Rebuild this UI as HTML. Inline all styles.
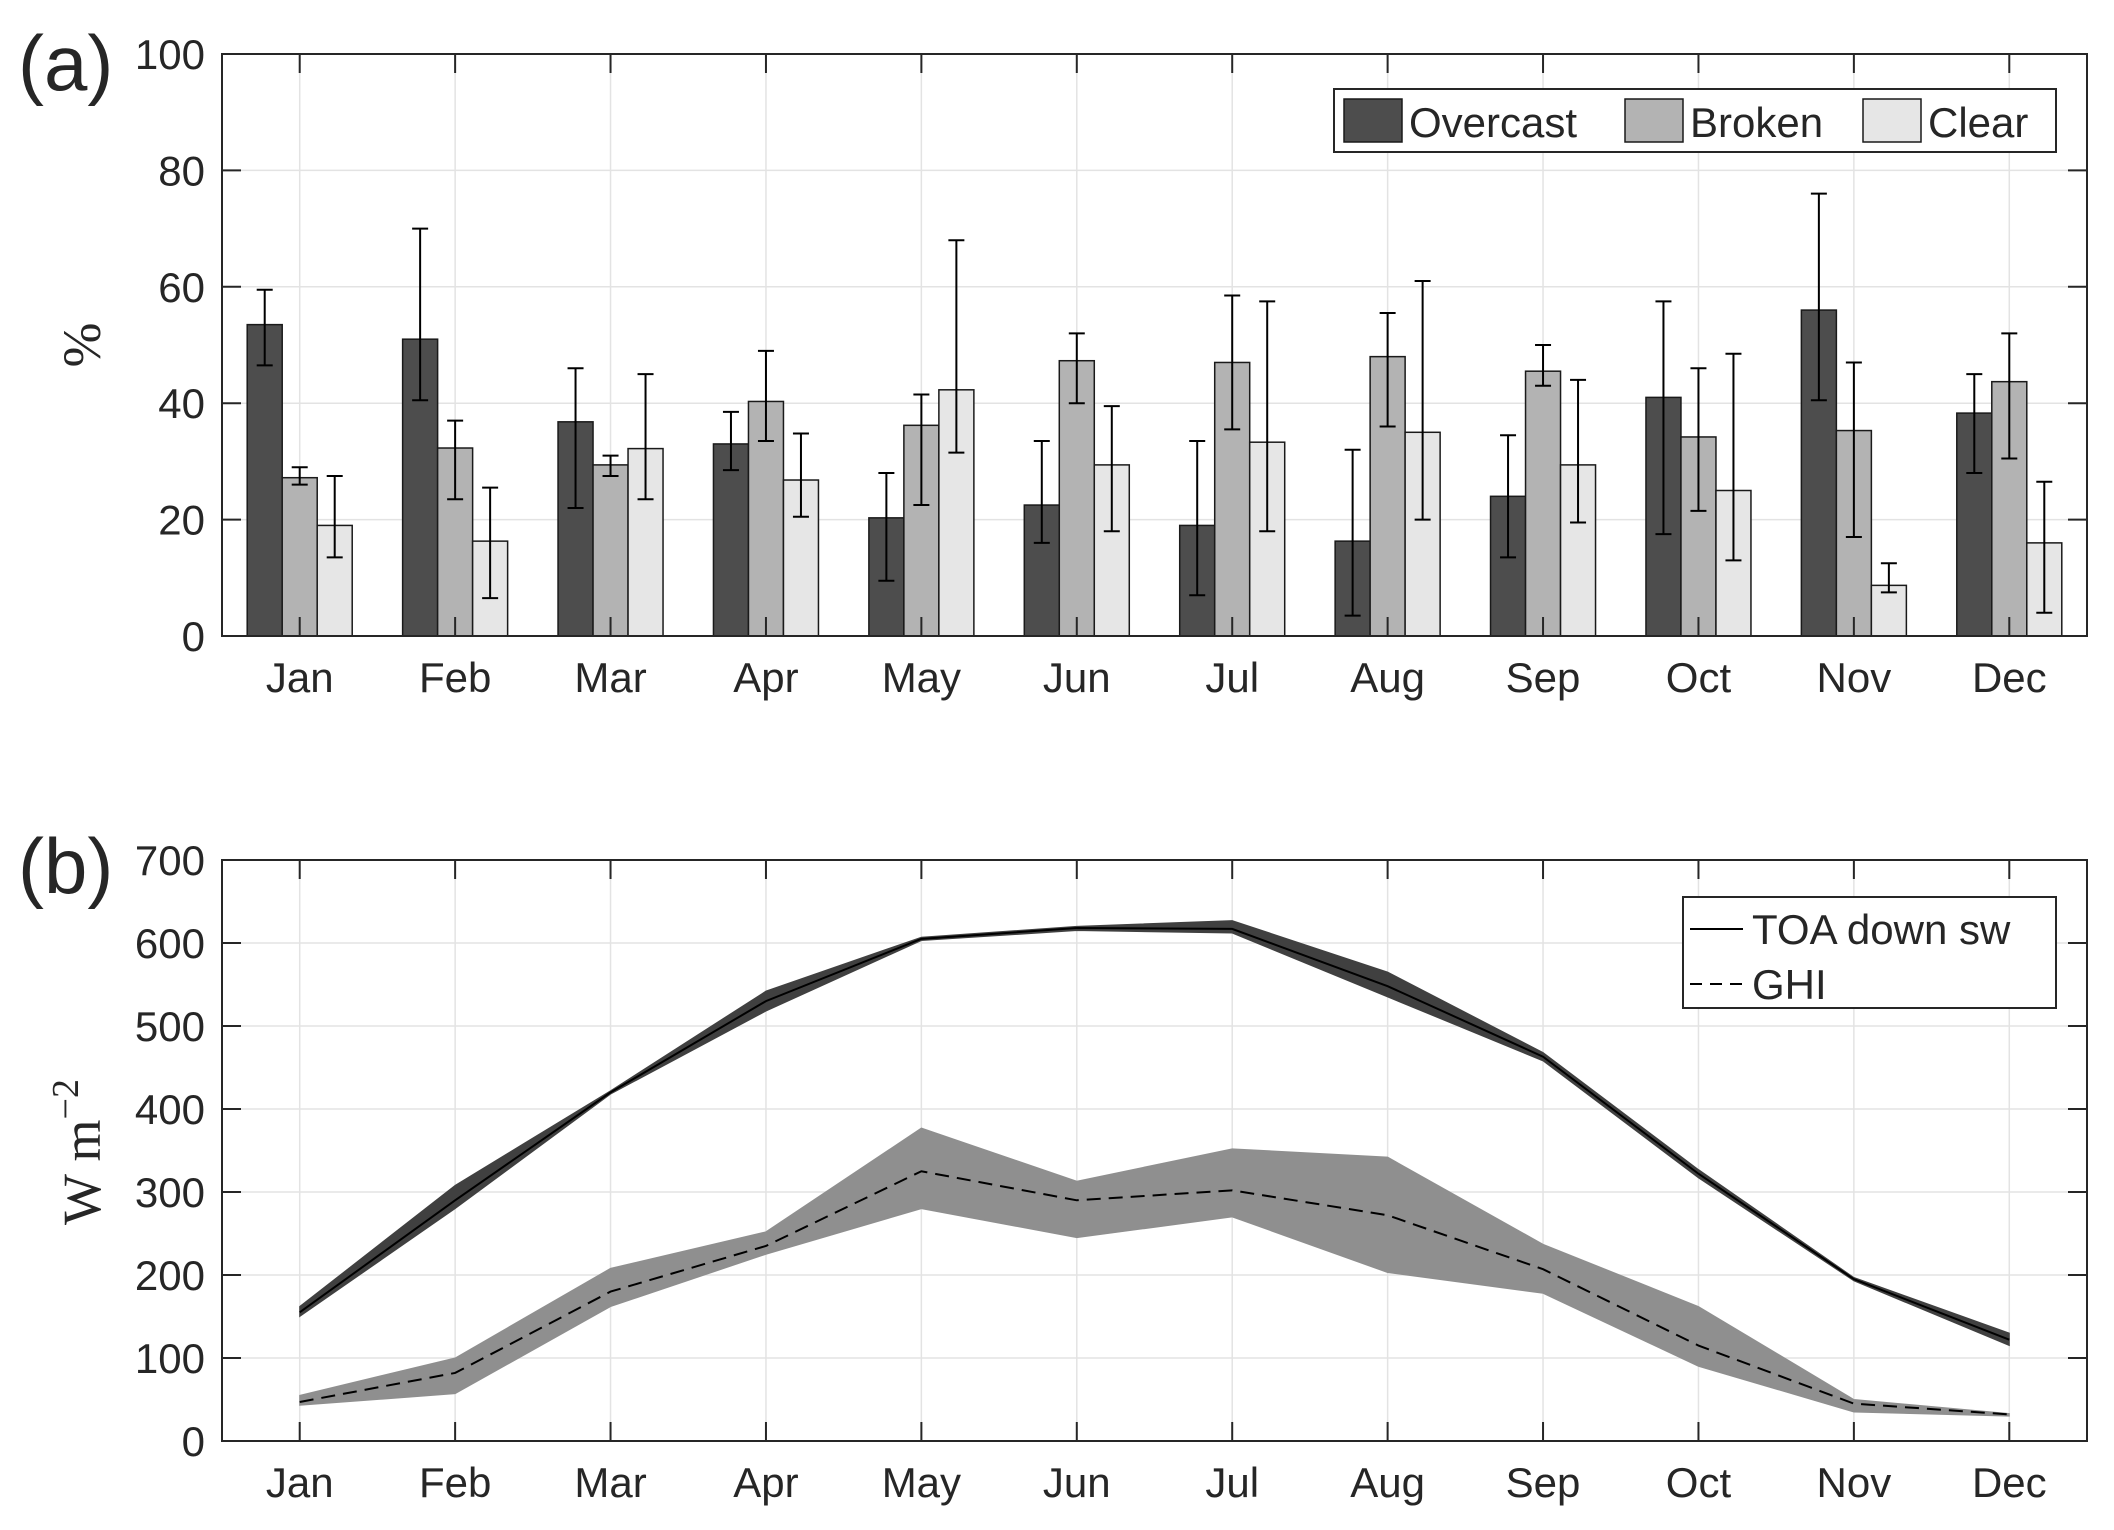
<!DOCTYPE html>
<html><head><meta charset="utf-8"><style>
html,body{margin:0;padding:0;background:#fff;}
svg{display:block;}
text{font-family:"Liberation Sans",sans-serif;fill:#262626;}
</style></head><body>
<svg id="fig" width="2114" height="1530" viewBox="0 0 2114 1530" xmlns="http://www.w3.org/2000/svg"></svg>
<script>
const months=["Jan","Feb","Mar","Apr","May","Jun","Jul","Aug","Sep","Oct","Nov","Dec"];
const yTicksA=[0,20,40,60,80,100];
const yTicksB=[0,100,200,300,400,500,600,700];
const overcast=[53.5,51,36.8,33,20.3,22.5,19,16.3,24,41,56,38.3];
const overcastLo=[46.5,40.5,22,28.5,9.5,16,7,3.5,13.5,17.5,40.5,28];
const overcastHi=[59.5,70,46,38.5,28,33.5,33.5,32,34.5,57.5,76,45];
const broken=[27.2,32.3,29.4,40.3,36.2,47.3,47,48,45.5,34.2,35.3,43.7];
const brokenLo=[26,23.5,27.5,33.5,22.5,40,35.5,36,43,21.5,17,30.5];
const brokenHi=[29,37,31,49,41.5,52,58.5,55.5,50,46,47,52];
const clear=[19,16.3,32.2,26.8,42.3,29.4,33.3,35,29.4,25,8.7,16];
const clearLo=[13.5,6.5,23.5,20.5,31.5,18,18,20,19.5,13,7.5,4];
const clearHi=[27.5,25.5,45,34.8,68,39.5,57.5,61,44,48.5,12.5,26.5];
const toa=[155,290,420,530,605,618,617,548,463,322,195,122];
const toaLo=[150,280,418,518,603,615,612,535,458,317,193,115];
const toaHi=[162,308,422,542,607,620,627,565,468,327,197,130];
const ghi=[47,82,180,235,325,290,302,272,207,115,45,32];
const ghiLo=[43,57,162,225,280,245,270,203,178,90,35,30];
const ghiHi=[55,100,208,252,377,313,352,342,237,162,50,33];

const NS="http://www.w3.org/2000/svg";
const svg=document.getElementById('fig');
function mk(tag,attrs,parent){const e=document.createElementNS(NS,tag);for(const k in attrs)e.setAttribute(k,attrs[k]);(parent||svg).appendChild(e);return e;}
const L=222,R=2087;
function xs(m){return L+(m+0.5)*(R-L)/12;}
function axisFrame(top,bot,ymax,ticks,g){
  const ys=v=>bot-(v/ymax)*(bot-top);
  for(let i=0;i<12;i++){const l=mk('line',{x1:xs(i),x2:xs(i),y1:top,y2:bot,stroke:'#e3e3e3','stroke-width':1.5},g);
  
  }
  ticks.forEach(t=>{const l=mk('line',{x1:L,x2:R,y1:ys(t),y2:ys(t),stroke:'#e3e3e3','stroke-width':1.5},g);
  
  });
  return ys;
}
function axisTicks(top,bot,ys,ticks,g){
  const r=mk('rect',{x:L,y:top,width:R-L,height:bot-top,fill:'none',stroke:'#262626','stroke-width':2},g);
  
  
  for(let i=0;i<12;i++){
    mk('line',{x1:xs(i),x2:xs(i),y1:bot,y2:bot-19,stroke:'#262626','stroke-width':2},g);
    mk('line',{x1:xs(i),x2:xs(i),y1:top,y2:top+19,stroke:'#262626','stroke-width':2},g);
    const t=mk('text',{x:xs(i),y:bot+56,'font-size':42,'text-anchor':'middle'},g);t.textContent=months[i];
    
    
  }
  ticks.forEach(v=>{
    mk('line',{x1:L,x2:L+19,y1:ys(v),y2:ys(v),stroke:'#262626','stroke-width':2},g);
    mk('line',{x1:R,x2:R-19,y1:ys(v),y2:ys(v),stroke:'#262626','stroke-width':2},g);
    const t=mk('text',{x:205,y:ys(v)+15,'font-size':42,'text-anchor':'end'},g);t.textContent=v;
    
    
  });
}
// Panel A
const gA=mk('g',{});


const aT=54,aB=636;
const ysA=axisFrame(aT,aB,100,yTicksA,gA);
const series=[[overcast,overcastLo,overcastHi,'#4d4d4d','overcast'],[broken,brokenLo,brokenHi,'#b3b3b3','broken'],[clear,clearLo,clearHi,'#e6e6e6','clear']];
const bw=35;
series.forEach((s,si)=>{
  for(let i=0;i<12;i++){
    const cx=xs(i)+(si-1)*35;
    const b=mk('rect',{x:cx-bw/2,y:ysA(s[0][i]),width:bw,height:aB-ysA(s[0][i]),fill:s[3],stroke:'#1a1a1a','stroke-width':1.5},gA);
    
    
    const e=mk('path',{d:`M${cx},${ysA(s[1][i])}V${ysA(s[2][i])}M${cx-8},${ysA(s[1][i])}H${cx+8}M${cx-8},${ysA(s[2][i])}H${cx+8}`,stroke:'#000','stroke-width':2,fill:'none'},gA);
    
    
  }
});
axisTicks(aT,aB,ysA,yTicksA,gA);
// Panel B
const gB=mk('g',{});


const bT=860,bB=1441;
const ysB=axisFrame(bT,bB,700,yTicksB,gB);
function band(lo,hi,fill,name){
  let d='M'+lo.map((v,i)=>xs(i)+','+ysB(v)).join('L')+'L'+hi.map((v,i)=>xs(i)+','+ysB(v)).reverse().join('L')+'Z';
  const p=mk('path',{d:d,fill:fill,stroke:fill,'stroke-width':1},gB);
  
  
}
function line(vals,dash,name){
  const p=mk('polyline',{points:vals.map((v,i)=>xs(i)+','+ysB(v)).join(' '),fill:'none',stroke:'#000','stroke-width':2,'stroke-dasharray':dash},gB);
  
  
}
band(toaLo,toaHi,'#404040','toa-band');
band(ghiLo,ghiHi,'#8f8f8f','ghi-band');
line(toa,'none','toa-line');
line(ghi,'14,8','ghi-line');
axisTicks(bT,bB,ysB,yTicksB,gB);
</script>
<svg style="position:absolute;left:0;top:0" width="2114" height="1530">
<text x="18" y="90" font-size="78">(a)</text>
<text x="18" y="893" font-size="78">(b)</text>
<text transform="translate(100,345) rotate(-90)" font-size="54" text-anchor="middle" style="font-family:'Liberation Serif',serif">%</text>
<text transform="translate(100,1152) rotate(-90)" font-size="54" text-anchor="middle" style="font-family:'Liberation Serif',serif">W m<tspan dy="-22" font-size="38">−2</tspan></text>
<g>
<rect x="1334" y="89" width="722" height="63" fill="#fff" stroke="#262626" stroke-width="2"/>
<rect x="1344" y="99" width="58" height="43" fill="#4d4d4d" stroke="#1a1a1a" stroke-width="1.5"/>
<text x="1409" y="137" font-size="42">Overcast</text>
<rect x="1625" y="99" width="58" height="43" fill="#b3b3b3" stroke="#1a1a1a" stroke-width="1.5"/>
<text x="1690" y="137" font-size="42">Broken</text>
<rect x="1863" y="99" width="58" height="43" fill="#e6e6e6" stroke="#1a1a1a" stroke-width="1.5"/>
<text x="1928" y="137" font-size="42">Clear</text>
</g>
<g>
<rect x="1683" y="897" width="373" height="111" fill="#fff" stroke="#262626" stroke-width="2"/>
<line x1="1690" x2="1743" y1="929" y2="929" stroke="#000" stroke-width="2"/>
<text x="1752" y="944" font-size="42">TOA down sw</text>
<line x1="1690" x2="1743" y1="984" y2="984" stroke="#000" stroke-width="2" stroke-dasharray="12,8"/>
<text x="1752" y="999" font-size="42">GHI</text>
</g>
</svg>
</body></html>
